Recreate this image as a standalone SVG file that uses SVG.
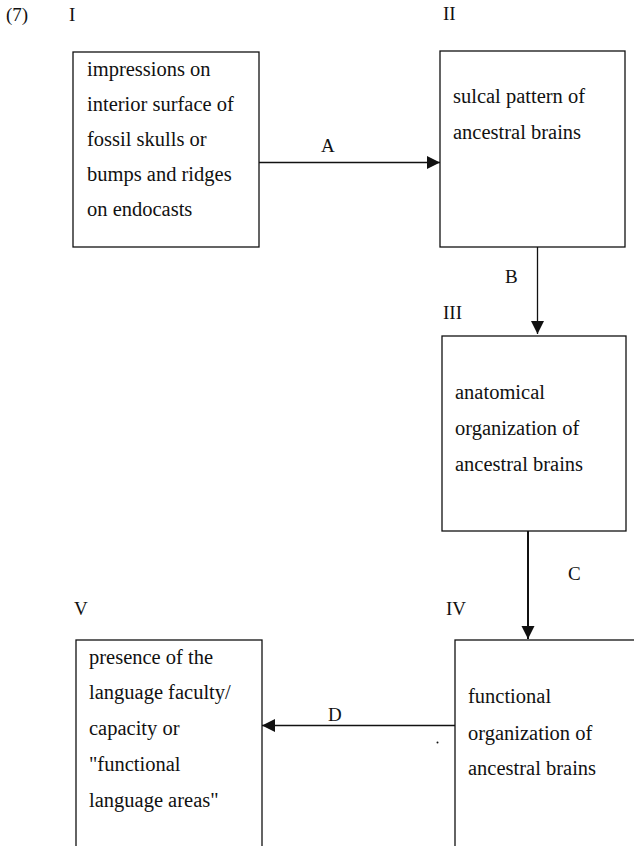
<svg xmlns="http://www.w3.org/2000/svg" width="634" height="846" viewBox="0 0 634 846">
<style>
  .box { fill: #ffffff; stroke: #111111; stroke-width: 1.3; }
  .t { font-family: "Liberation Serif", "Times New Roman", serif; font-size: 20.5px; fill: #111111; }
  .lbl { font-family: "Liberation Serif", "Times New Roman", serif; font-size: 19px; fill: #111111; }
  .edge { stroke: #111111; stroke-width: 1.3; fill: none; }
</style>
<defs>
  <marker id="ah" markerWidth="14" markerHeight="14" refX="13" refY="6.5" orient="auto" markerUnits="userSpaceOnUse">
    <path d="M0,0 L13,6.5 L0,13 Z" fill="#111111"/>
  </marker>
</defs>
<rect width="634" height="846" fill="#ffffff"/>
<text class="lbl" x="6" y="21">(7)</text>

<g id="node-I">
  <text class="lbl" x="69" y="21">I</text>
  <rect class="box" x="73" y="52" width="186" height="195"/>
  <text class="t" x="87" y="76">impressions on</text>
  <text class="t" x="87" y="111">interior surface of</text>
  <text class="t" x="87" y="146">fossil skulls or</text>
  <text class="t" x="87" y="181">bumps and ridges</text>
  <text class="t" x="87" y="216">on endocasts</text>
</g>

<g id="node-II">
  <text class="lbl" x="443" y="20">II</text>
  <rect class="box" x="440" y="51" width="185" height="196"/>
  <text class="t" x="453" y="103">sulcal pattern of</text>
  <text class="t" x="453" y="139">ancestral brains</text>
</g>

<g id="node-III">
  <text class="lbl" x="443" y="319">III</text>
  <rect class="box" x="442" y="336" width="184" height="195"/>
  <text class="t" x="455" y="399">anatomical</text>
  <text class="t" x="455" y="435">organization of</text>
  <text class="t" x="455" y="471">ancestral brains</text>
</g>

<g id="node-IV">
  <text class="lbl" x="446" y="615">IV</text>
  <rect class="box" x="455" y="640" width="220" height="240"/>
  <text class="t" x="468" y="703">functional</text>
  <text class="t" x="468" y="740">organization of</text>
  <text class="t" x="468" y="775">ancestral brains</text>
</g>

<g id="node-V">
  <text class="lbl" x="74" y="615">V</text>
  <rect class="box" x="76" y="640" width="186" height="240"/>
  <text class="t" x="89" y="664">presence of the</text>
  <text class="t" x="89" y="699">language faculty/</text>
  <text class="t" x="89" y="735">capacity or</text>
  <text class="t" x="89" y="771">"functional</text>
  <text class="t" x="89" y="807">language areas"</text>
</g>

<g id="connectors">
  <line class="edge" x1="259" y1="162.5" x2="440" y2="162.5" marker-end="url(#ah)"/>
  <text class="lbl" x="321" y="152">A</text>
  <line class="edge" x1="537.5" y1="247" x2="537.5" y2="334" marker-end="url(#ah)"/>
  <text class="lbl" x="505" y="283">B</text>
  <line class="edge" x1="528" y1="531" x2="528" y2="639" marker-end="url(#ah)" style="stroke-width:2"/>
  <text class="lbl" x="568" y="580">C</text>
  <line class="edge" x1="455" y1="725.5" x2="262" y2="725.5" marker-end="url(#ah)"/>
  <text class="lbl" x="328" y="721">D</text>
  <circle cx="437.5" cy="742.5" r="1" fill="#111111"/>
</g>
</svg>
